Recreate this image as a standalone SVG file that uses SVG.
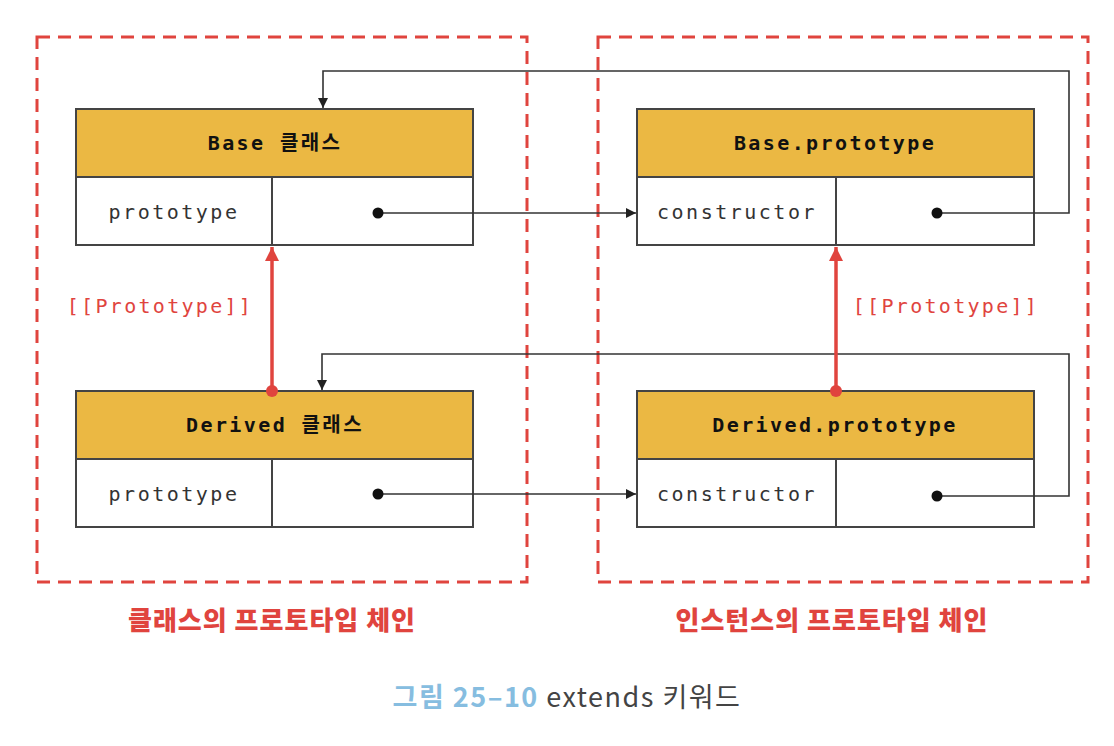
<svg xmlns="http://www.w3.org/2000/svg" width="1114" height="746" viewBox="0 0 1114 746">
<style>
.frame{fill:none;stroke:#e0443e;stroke-width:3;stroke-dasharray:13 8}
.hdr{fill:#ebb843;stroke:#444;stroke-width:2}
.row{fill:#fff;stroke:#444;stroke-width:2}
.div{stroke:#444;stroke-width:2}
.ht{font-family:"DejaVu Sans Mono","Noto Sans CJK KR",monospace;font-weight:bold;font-size:20px;letter-spacing:2.4px;fill:#111;text-anchor:middle}
.rt{font-family:"DejaVu Sans Mono",monospace;font-size:20px;letter-spacing:2.5px;fill:#333;text-anchor:middle}
.pt{font-family:"DejaVu Sans Mono",monospace;font-size:20px;letter-spacing:2.3px;fill:#e0443e;text-anchor:middle}
.ln{fill:none;stroke:#333;stroke-width:1.6}
.red{fill:none;stroke:#e0443e;stroke-width:3.5}
.cap{font-family:"Noto Sans CJK KR",sans-serif;font-weight:900;font-size:26px;letter-spacing:1px;fill:#e0443e;text-anchor:middle}
</style>
<defs>
<marker id="ah" viewBox="0 0 10 10" refX="10" refY="5" markerWidth="10" markerHeight="10" markerUnits="userSpaceOnUse" orient="auto">
<path d="M0,0 L10,5 L0,10 z" fill="#222"/>
</marker>
<marker id="rah" viewBox="0 0 12 12" refX="12" refY="6" markerWidth="14" markerHeight="14" markerUnits="userSpaceOnUse" orient="auto">
<path d="M0,0 L12,6 L0,12 z" fill="#e0443e"/>
</marker>
</defs>
<rect width="1114" height="746" fill="#fff"/>
<g id="frames">
<rect class="frame" x="37" y="37" width="490" height="545"/>
<rect class="frame" x="598" y="37" width="490" height="545"/>
</g>
<g id="base-class">
<rect class="hdr" x="76" y="109" width="397" height="68"/>
<rect class="row" x="76" y="177" width="397" height="68"/>
<line class="div" x1="272" y1="177" x2="272" y2="245"/>
<text class="ht" x="275" y="150">Base 클래스</text>
<text class="rt" x="174" y="219">prototype</text>
</g>
<g id="base-prototype">
<rect class="hdr" x="637" y="109" width="397" height="68"/>
<rect class="row" x="637" y="177" width="397" height="68"/>
<line class="div" x1="836" y1="177" x2="836" y2="245"/>
<text class="ht" x="835" y="150">Base.prototype</text>
<text class="rt" x="737" y="219">constructor</text>
</g>
<g id="derived-class">
<rect class="hdr" x="76" y="391" width="397" height="68"/>
<rect class="row" x="76" y="459" width="397" height="68"/>
<line class="div" x1="272" y1="459" x2="272" y2="527"/>
<text class="ht" x="275" y="432">Derived 클래스</text>
<text class="rt" x="174" y="501">prototype</text>
</g>
<g id="derived-prototype">
<rect class="hdr" x="637" y="391" width="397" height="68"/>
<rect class="row" x="637" y="459" width="397" height="68"/>
<line class="div" x1="836" y1="459" x2="836" y2="527"/>
<text class="ht" x="835" y="432">Derived.prototype</text>
<text class="rt" x="737" y="501">constructor</text>
</g>
<g id="connectors">
<path class="ln" d="M378,213 H636" marker-end="url(#ah)"/>
<path class="ln" d="M937,213 H1069 V71 H323 V108" marker-end="url(#ah)"/>
<path class="ln" d="M378,494 H636" marker-end="url(#ah)"/>
<path class="ln" d="M937,496 H1069 V354 H322 V390" marker-end="url(#ah)"/>
<circle cx="378" cy="213" r="5.5" fill="#111"/>
<circle cx="937" cy="213" r="5.5" fill="#111"/>
<circle cx="378" cy="494" r="5.5" fill="#111"/>
<circle cx="937" cy="496" r="5.5" fill="#111"/>
<path class="red" d="M272,391 V247" marker-end="url(#rah)"/>
<path class="red" d="M836,391 V247" marker-end="url(#rah)"/>
<circle cx="272" cy="391" r="6" fill="#e0443e"/>
<circle cx="836" cy="391" r="6" fill="#e0443e"/>
<text class="pt" x="160" y="313">[[Prototype]]</text>
<text class="pt" x="946" y="313">[[Prototype]]</text>
</g>
<g id="labels">
<text class="cap" x="272" y="630">클래스의 프로토타입 체인</text>
<text class="cap" x="832" y="630">인스턴스의 프로토타입 체인</text>
<text x="567" y="707" font-family="Noto Sans CJK KR,sans-serif" font-size="27" letter-spacing="1.5" text-anchor="middle"><tspan fill="#86bde0" font-weight="bold">그림 25–10</tspan><tspan fill="#444"> extends 키워드</tspan></text>
</g>
</svg>
